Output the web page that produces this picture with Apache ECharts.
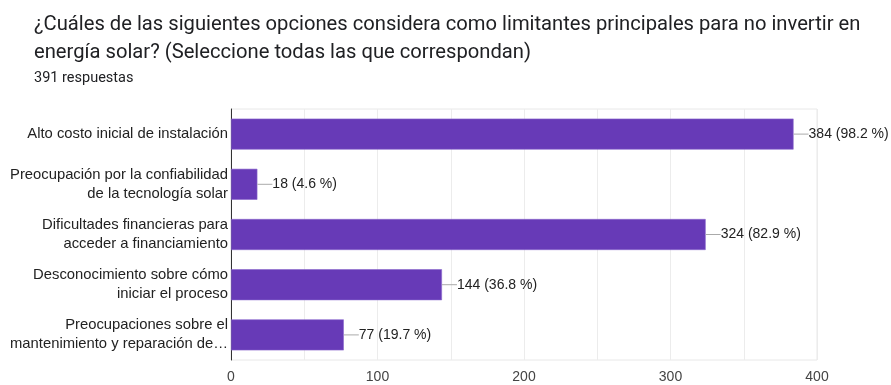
<!DOCTYPE html>
<html>
<head>
<meta charset="utf-8">
<script src="https://cdn.jsdelivr.net/npm/echarts@6/dist/echarts.min.js"></script>
<style>
  html, body { margin: 0; padding: 0; background: #fff; }
  #chart { width: 891px; height: 385px; }
</style>
</head>
<body>
<div id="chart"></div>
<script>
// Survey answers: main barriers to investing in solar energy
const categories = [
  'Alto costo inicial de instalación',
  'Preocupación por la confiabilidad\nde la tecnología solar',
  'Dificultades financieras para\nacceder a financiamiento',
  'Desconocimiento sobre cómo\niniciar el proceso',
  'Preocupaciones sobre el\nmantenimiento y reparación de…'
];
const counts = [384, 18, 324, 144, 77];
const percents = ['98.2', '4.6', '82.9', '36.8', '19.7'];
const xTicks = [0, 100, 200, 300, 400];
const totalResponses = 391;

const chart = echarts.init(document.getElementById('chart'));
const titleFont = 'Roboto, "Liberation Sans", Arial, sans-serif';
const font = '"Liberation Sans", Arial, Helvetica, sans-serif';

chart.setOption({
  animation: false,
  backgroundColor: '#fff',
  textStyle: { fontFamily: font },
  title: [
    {
      text: '¿Cuáles de las siguientes opciones considera como limitantes principales para no invertir en\nenergía solar? (Seleccione todas las que correspondan)',
      left: 29, top: 6,
      textStyle: { fontSize: 20.2, fontWeight: 'normal', color: '#202124', lineHeight: 28, fontFamily: titleFont }
    },
    {
      text: totalResponses + ' respuestas',
      left: 29, top: 66,
      textStyle: { fontSize: 14.5, fontWeight: 'normal', color: '#202124', fontFamily: titleFont }
    }
  ],
  grid: {
    left: 231, right: 74, top: 109, bottom: 25,
    show: true, borderColor: '#e8e8e8', borderWidth: 1
  },
  xAxis: {
    type: 'value',
    min: 0, max: 400, interval: 50,
    axisLine: { show: false },
    axisTick: { show: false },
    splitLine: { show: true, lineStyle: { color: '#ececec', width: 1 } },
    axisLabel: {
      color: '#444', fontSize: 14, margin: 10, fontFamily: font,
      formatter: v => (xTicks.indexOf(v) >= 0 ? String(v) : '')
    }
  },
  yAxis: {
    type: 'category',
    inverse: true,
    data: categories,
    axisLine: { show: true, lineStyle: { color: '#333', width: 1 } },
    axisTick: { show: false },
    axisLabel: {
      color: '#222', fontSize: 14.8, lineHeight: 19, margin: 3, align: 'right', fontFamily: font
    }
  },
  series: [{
    type: 'bar',
    data: counts,
    barWidth: 31,
    itemStyle: { color: '#673ab7', borderColor: '#8a67cc', borderWidth: 0.6 },
    label: {
      show: true,
      position: 'right',
      distance: 0,
      formatter: p => '{l|}{v|' + counts[p.dataIndex] + ' (' + percents[p.dataIndex] + ' %)}',
      rich: {
        l: { width: 15, height: 1, backgroundColor: '#aaa' },
        v: { color: '#222', fontSize: 14, fontFamily: font }
      }
    }
  }]
});
</script>
</body>
</html>
